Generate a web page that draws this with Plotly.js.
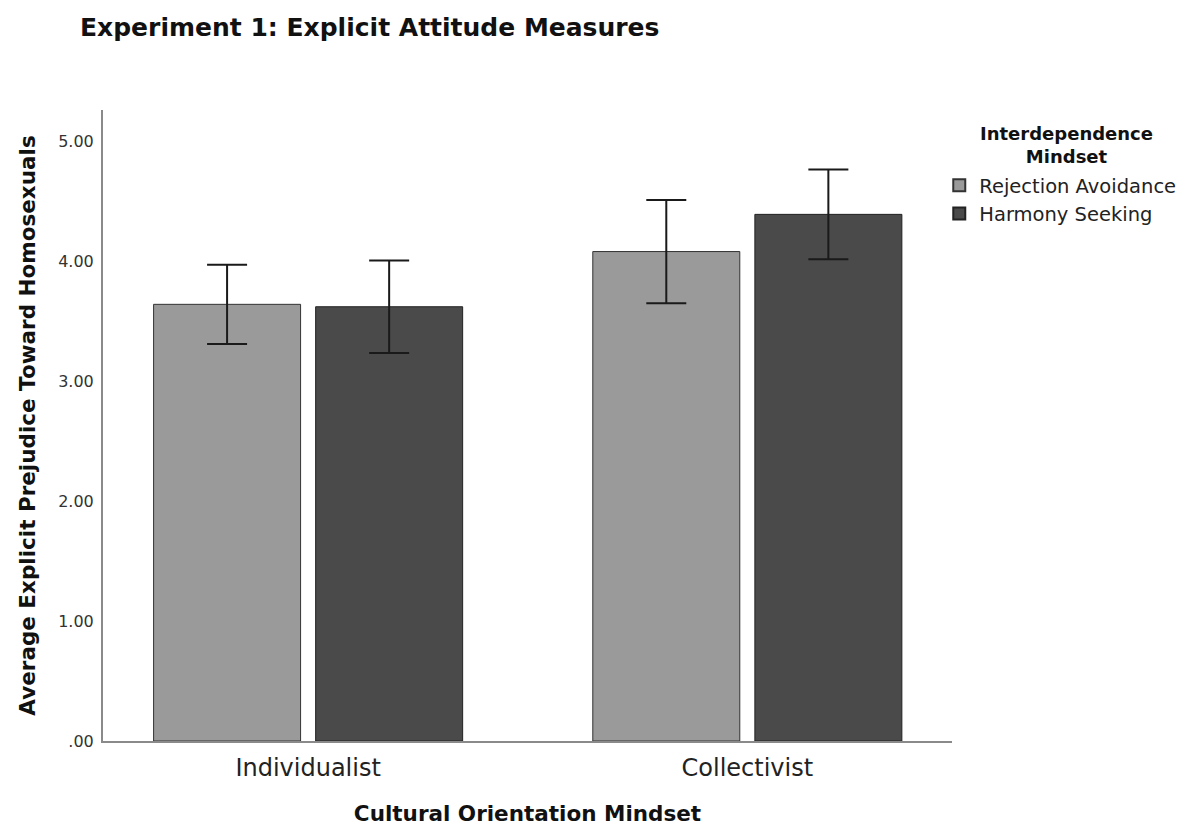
<!DOCTYPE html>
<html>
<head>
<meta charset="utf-8">
<script src="https://cdn.plot.ly/plotly-3.0.1.min.js"></script>
<style>html,body{margin:0;padding:0;background:#fff;}#chart{width:1196px;height:829px;}</style>
</head>
<body>
<div id="chart"></div>
<script>
const categories = ["Individualist", "Collectivist"];
const seriesNames = ["Rejection Avoidance", "Harmony Seeking"];
const rejectionAvoidance = [3.64, 4.08];
const rejectionAvoidanceErr = [0.33, 0.43];
const harmonySeeking = [3.62, 4.39];
const harmonySeekingErr = [0.385, 0.375];
const yTickVals = [0, 1, 2, 3, 4, 5];
const yTickText = [".00", "1.00", "2.00", "3.00", "4.00", "5.00"];
const legendTitle = "Interdependence<br>Mindset";

const FONT = "DejaVu Sans, Verdana, sans-serif";
const errStyle = {type: "data", visible: true, color: "#1a1a1a", thickness: 2, width: 20};

const traces = [
  {
    type: "bar", name: seriesNames[0], x: categories, y: rejectionAvoidance,
    marker: {color: "#9a9a9a", line: {color: "#333333", width: 1}},
    error_y: Object.assign({array: rejectionAvoidanceErr}, errStyle)
  },
  {
    type: "bar", name: seriesNames[1], x: categories, y: harmonySeeking,
    marker: {color: "#4a4a4a", line: {color: "#222222", width: 1}},
    error_y: Object.assign({array: harmonySeekingErr}, errStyle)
  }
];

const layout = {
  width: 1196, height: 829,
  paper_bgcolor: "#ffffff", plot_bgcolor: "#ffffff",
  margin: {l: 103, r: 244, t: 110, b: 88, pad: 0},
  barmode: "group", bargap: 0.262, bargroupgap: 0.093,
  font: {family: FONT, color: "#222"},
  title: {
    text: "<b>Experiment 1: Explicit Attitude Measures</b>",
    x: 80 / 1196, xanchor: "left", xref: "container",
    y: 1 - 27 / 829, yanchor: "middle", yref: "container",
    font: {family: FONT, size: 25, color: "#111"}
  },
  xaxis: {
    type: "category", range: [-0.467, 1.466],
    showline: true, linecolor: "#8a8a8a", linewidth: 2,
    ticks: "outside", ticklen: 4, tickcolor: "rgba(0,0,0,0)", showgrid: false, zeroline: false,
    tickfont: {family: FONT, size: 24, color: "#222"},
    title: {text: "<b>Cultural Orientation Mindset</b>", font: {family: FONT, size: 21.5, color: "#111"}, standoff: 25}
  },
  yaxis: {
    range: [0, 5.26], tickvals: yTickVals, ticktext: yTickText,
    showline: true, linecolor: "#8a8a8a", linewidth: 2,
    ticks: "outside", ticklen: 4, tickcolor: "rgba(0,0,0,0)", showgrid: false, zeroline: false,
    tickfont: {family: FONT, size: 16, color: "#333"},
    title: {text: "<b>Average Explicit Prejudice Toward Homosexuals</b>", font: {family: FONT, size: 21.5, color: "#111"}, standoff: 17}
  },
  showlegend: true,
  legend: {
    x: 0.985, xanchor: "left", y: (741 - 166) / 631, yanchor: "top",
    font: {family: FONT, size: 19.5, color: "#222"},
    itemsizing: "constant", tracegroupgap: 0, bgcolor: "rgba(0,0,0,0)"
  },
  annotations: [{
    text: "<b>" + legendTitle + "</b>", xref: "paper", yref: "paper",
    x: (1066 - 103) / 849, y: (741 - 121) / 631, xanchor: "center", yanchor: "top",
    align: "center", showarrow: false,
    font: {family: FONT, size: 18, color: "#111"}
  }]
};

Plotly.newPlot("chart", traces, layout, {displayModeBar: false, responsive: false});
</script>
</body>
</html>
